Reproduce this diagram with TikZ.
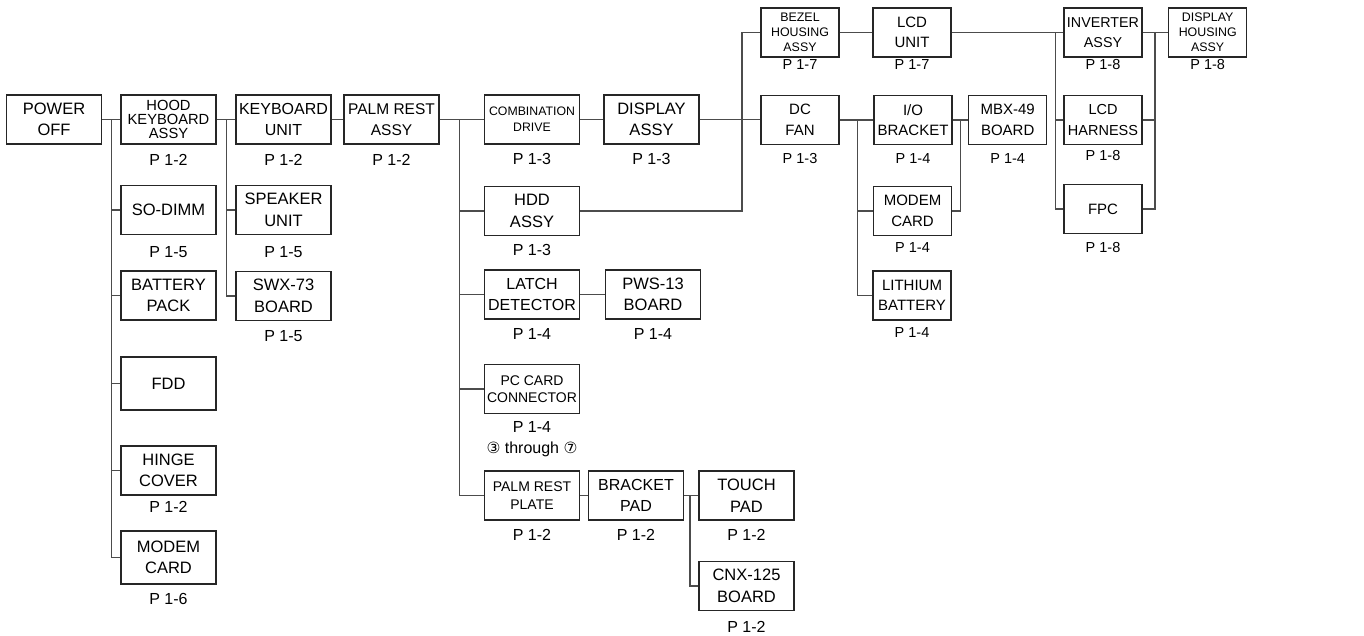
\documentclass[tikz,border=0pt]{standalone}
\usepackage{fontspec}
\setmainfont{Liberation Sans}
\newfontfamily\symfont{DejaVu Sans}
\begin{document}
\begin{tikzpicture}[x=1pt,y=-1pt,
  bx/.style={draw=black!85, line width=1.1pt, minimum width=95pt, minimum height=49pt, inner sep=0pt, align=center, font=\fontsize{16.5}{21.5}\selectfont},
  nb/.style={bx, minimum width=78pt, font=\fontsize{15}{20.5}\selectfont},
  lb/.style={font=\fontsize{16}{18}\selectfont, inner sep=0pt},
  lbn/.style={font=\fontsize{14.5}{16}\selectfont, inner sep=0pt},
  wire/.style={draw=black!70, line width=1.1pt}]
\useasboundingbox (0,0) rectangle (1364,636);
% column A/B
\node[bx] (power) at (54,119.5) {POWER\\OFF};
\node[bx, font=\fontsize{14.7}{14.3}\selectfont] (hood) at (168.5,119.5) {HOOD\\KEYBOARD\\ASSY};
\node[bx] (sodimm) at (168.5,210) {SO-DIMM};
\node[bx] (battery) at (168.5,295.5) {BATTERY\\PACK};
\node[bx, minimum height=53pt] (fdd) at (168.5,383.5) {FDD};
\node[bx] (hinge) at (168.5,470.5) {HINGE\\COVER};
\node[bx, minimum height=53pt] (modemA) at (168.5,557.5) {MODEM\\CARD};
% column C/D
\node[bx, font=\fontsize{16}{21.5}\selectfont] (kbunit) at (283.5,119.5) {KEYBOARD\\UNIT};
\node[bx] (speaker) at (283.5,210) {SPEAKER\\UNIT};
\node[bx] (swx) at (283.5,296) {SWX-73\\BOARD};
\node[bx, font=\fontsize{15.5}{21.5}\selectfont] (palm) at (391.5,119.5) {PALM REST\\ASSY};
% column F/G/H
\node[bx, font=\fontsize{12.3}{16}\selectfont] (comb) at (532,119.5) {COMBINATION\\DRIVE};
\node[bx] (hdd) at (532,211) {HDD\\ASSY};
\node[bx, font=\fontsize{16}{21}\selectfont] (latch) at (532,294.5) {LATCH\\DETECTOR};
\node[bx, font=\fontsize{14}{17.5}\selectfont] (pccard) at (532,389) {PC CARD\\CONNECTOR};
\node[bx, font=\fontsize{14}{18}\selectfont] (plate) at (532,495.5) {PALM REST\\PLATE};
\node[bx] (display) at (651.5,119.5) {DISPLAY\\ASSY};
\node[bx] (pws) at (653,294.5) {PWS-13\\BOARD};
\node[bx, font=\fontsize{16}{21}\selectfont] (bracket) at (636,495.5) {BRACKET\\PAD};
\node[bx] (touch) at (746.5,495.5) {TOUCH\\PAD};
\node[bx] (cnx) at (746.5,586) {CNX-125\\BOARD};
% right part
\node[nb, font=\fontsize{12.4}{15}\selectfont] (bezel) at (800,32.5) {BEZEL\\HOUSING\\ASSY};
\node[nb] (dcfan) at (800,120) {DC\\FAN};
\node[nb] (lcdunit) at (912,32.5) {LCD\\UNIT};
\node[nb] (io) at (913,120) {I/O\\BRACKET};
\node[nb] (modemB) at (912.5,211) {MODEM\\CARD};
\node[nb] (lithium) at (912,295.5) {LITHIUM\\BATTERY};
\node[nb] (mbx) at (1007.7,120) {MBX-49\\BOARD};
\node[nb, font=\fontsize{14.3}{20.5}\selectfont] (inverter) at (1103,32.5) {INVERTER\\ASSY};
\node[nb, font=\fontsize{14.5}{20.5}\selectfont] (harness) at (1103,120) {LCD\\HARNESS};
\node[nb] (fpc) at (1103,209) {FPC};
\node[nb, font=\fontsize{12.4}{15}\selectfont] (dha) at (1207.7,32.5) {DISPLAY\\HOUSING\\ASSY};
% labels
\node[lb] (l-hood) at (168.5,160) {P 1-2};
\node[lb] (l-sodimm) at (168.5,252) {P 1-5};
\node[lb] (l-hinge) at (168.5,507) {P 1-2};
\node[lb] (l-modemA) at (168.5,599) {P 1-6};
\node[lb] (l-kbunit) at (283.5,160) {P 1-2};
\node[lb] (l-speaker) at (283.5,252) {P 1-5};
\node[lb] (l-swx) at (283.5,336) {P 1-5};
\node[lb] (l-palm) at (391.5,160) {P 1-2};
\node[lb] (l-comb) at (532,159) {P 1-3};
\node[lb] (l-hdd) at (532,250) {P 1-3};
\node[lb] (l-latch) at (532,334) {P 1-4};
\node[lb] (l-pccard) at (532,427) {P 1-4};
\node[lb] (l-through) at (532,449) {{\symfont\fontsize{15.5}{16}\selectfont ③} through {\symfont\fontsize{15.5}{16}\selectfont ⑦}};
\node[lb] (l-plate) at (532,535) {P 1-2};
\node[lb] (l-display) at (651.5,159) {P 1-3};
\node[lb] (l-pws) at (653,334) {P 1-4};
\node[lb] (l-bracket) at (636,535) {P 1-2};
\node[lb] (l-touch) at (746.5,535) {P 1-2};
\node[lb] (l-cnx) at (746.5,627) {P 1-2};
\node[lbn] (l-bezel) at (800,64.5) {P 1-7};
\node[lbn] (l-lcdunit) at (912,64.5) {P 1-7};
\node[lbn] (l-inverter) at (1103,64.5) {P 1-8};
\node[lbn] (l-dha) at (1207.7,64.5) {P 1-8};
\node[lbn] (l-dcfan) at (800,159) {P 1-3};
\node[lbn] (l-io) at (913,159) {P 1-4};
\node[lbn] (l-mbx) at (1007.7,159) {P 1-4};
\node[lbn] (l-harness) at (1103,155.5) {P 1-8};
\node[lbn] (l-modemB) at (912.5,248) {P 1-4};
\node[lbn] (l-fpc) at (1103,248) {P 1-8};
\node[lbn] (l-lithium) at (912,333) {P 1-4};
% bus coordinates
\coordinate (bA) at (111.7,0);
\coordinate (bC) at (226.7,0);
\coordinate (bE) at (459.5,0);
\coordinate (bH) at (690,0);
\coordinate (vD) at (742,0);
\coordinate (bJ) at (857.5,0);
\coordinate (bK) at (960.7,0);
\coordinate (bL) at (1055.7,0);
\coordinate (bM) at (1155,0);
% wires
\draw[wire] (power.east) -- (hood.west);
\draw[wire] (bA |- hood.west) |- (modemA.west);
\foreach \n in {sodimm,battery,fdd,hinge} \draw[wire] (bA |- \n.west) -- (\n.west);
\draw[wire] (hood.east) -- (kbunit.west);
\draw[wire] (bC |- kbunit.west) |- (swx.west);
\draw[wire] (bC |- speaker.west) -- (speaker.west);
\draw[wire] (kbunit.east) -- (palm.west);
\draw[wire] (palm.east) -- (comb.west);
\draw[wire] (bE |- comb.west) |- (plate.west);
\foreach \n in {hdd,latch,pccard} \draw[wire] (bE |- \n.west) -- (\n.west);
\draw[wire] (comb.east) -- (display.west);
\draw[wire] (display.east) -- (display.east -| dcfan.west);
\draw[wire] (hdd.east) -| (vD |- bezel.west) -- (bezel.west);
\draw[wire] (latch.east) -- (pws.west);
\draw[wire] (plate.east) -- (bracket.west);
\draw[wire] (bracket.east) -- (touch.west);
\draw[wire] (bH |- touch.west) |- (cnx.west);
\draw[wire] (bezel.east) -- (lcdunit.west);
\draw[wire] (lcdunit.east) -- (inverter.west);
\draw[wire] (bL |- inverter.west) |- (fpc.west);
\draw[wire] (bL |- harness.west) -- (harness.west);
\draw[wire] (inverter.east) -- (dha.west);
\draw[wire] (bM |- dha.west) |- (fpc.east);
\draw[wire] (harness.east) -- (bM |- harness.east);
\draw[wire] (dcfan.east) -- (io.west);
\draw[wire] (bJ |- io.west) |- (lithium.west);
\draw[wire] (bJ |- modemB.west) -- (modemB.west);
\draw[wire] (io.east) -- (mbx.west);
\draw[wire] (bK |- mbx.west) |- (modemB.east);
\end{tikzpicture}
\end{document}
